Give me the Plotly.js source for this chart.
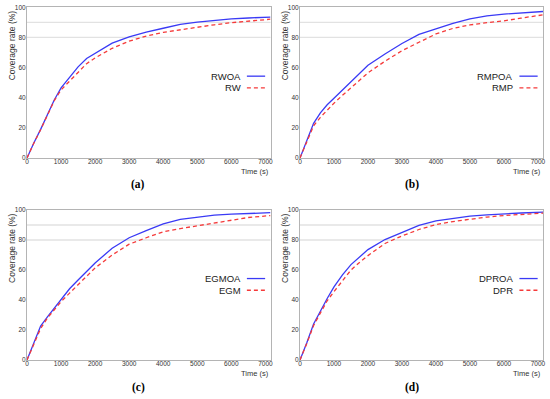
<!DOCTYPE html>
<html>
<head>
<meta charset="utf-8">
<script src="https://cdn.plot.ly/plotly-3.0.1.min.js"></script>
<style>html,body{margin:0;padding:0;background:#fff;}#chart{width:550px;height:399px;}</style>
</head>
<body>
<div id="chart"></div>
<script>
// Time samples (s)
const time = [0,100,200,400,600,800,1000,1250,1500,1750,2000,2500,3000,3500,4000,4500,5000,5500,6000,6500,7150];

// Panel (a)
const rwoa = [0,5.5,10,19,29,38.5,46.5,53.8,60.5,66,69.3,76.2,80.3,83.5,86.1,88.7,90.2,91.3,92.3,92.9,93.5];
const rw   = [0,5.3,9.8,18.8,28.8,38,45.2,51.2,57,62.6,66.4,72.8,77.5,80.9,83.4,85.2,86.8,88.4,89.8,91,92.1];
// Panel (b)
const rmpoa = [0,6,12,23,30,35.3,39.7,45.3,50.7,56.4,61.5,69,76,82,85.9,89.3,92.3,94.3,95.5,96.3,97.2];
const rmp   = [0,5.5,11,21.4,27,31.8,36.4,41.6,46.7,51.8,56.5,64.2,71.2,76.8,82.3,86,88.3,89.8,91,92.8,95];
// Panel (c)
const egmoa = [0,6,12,22.6,28.7,34.5,40,47.5,53.3,59,64.7,74.5,81.5,86.3,90.7,93.7,95.4,96.6,97.2,97.7,98.2];
const egm   = [0,5.5,11,21,28,33.5,38.9,44.6,50,55.8,61.4,70,77.2,81.5,85.4,87.6,89.5,91.7,93.3,95,96.3];
// Panel (d)
const droa  = [0,5.5,11.5,24,33,41,48.8,56.8,63.6,68.6,73.6,80.3,85.3,89.8,92.8,94.6,95.9,96.8,97.5,98,98.6];
const dpr   = [0,5.3,11,23,31.5,39.5,45.6,53,60,65,69.6,77.7,82.7,87,90.3,92.3,94,95.3,96.3,97.1,97.9];

const panelLabels = ['(a)','(b)','(c)','(d)'];
const seriesNames = [['RWOA','RW'],['RMPOA','RMP'],['EGMOA','EGM'],['DPROA','DPR']];
const seriesData = [[rwoa,rw],[rmpoa,rmp],[egmoa,egm],[droa,dpr]];
const xTicks = [0,1000,2000,3000,4000,5000,6000,7000];
const yTicks = [0,20,40,60,80,100];
const gridLevels = [80,90];
const xTitle = 'Time (s)';
const yTitle = 'Coverage rate (%)';

const BLUE = '#3a3af5', RED = '#f53a3a';
const FONT = 'Liberation Sans Narrow, Liberation Sans, Arial, sans-serif';

const W = 550, H = 399;
// plot areas in px [left,right,top,bottom]
const boxes = [[27,270.5,7.3,158],[300,543,7.3,158],[27,270.5,210,360],[300,543,210,360]];
const labelPos = [[138,185],[412,185],[138,387],[412,387]];

const traces = [], shapes = [], annotations = [];
const layout = {
  width: W, height: H, margin:{l:0,r:0,t:0,b:0},
  paper_bgcolor:'#fff', plot_bgcolor:'#fff', showlegend:false,
  font:{family:FONT, color:'#333'}
};

for (let i=0;i<4;i++){
  const n = i+1;
  const xa = 'xaxis'+(n===1?'':n), ya = 'yaxis'+(n===1?'':n);
  const xr = 'x'+(n===1?'':n), yr = 'y'+(n===1?'':n);
  const b = boxes[i];
  layout[xa] = {
    domain:[b[0]/W, b[1]/W], anchor:yr, range:[0,7150],
    tickvals:xTicks, ticks:'', showgrid:false, zeroline:false,
    showline:true, linecolor:'#b4b4b4', linewidth:1, mirror:true,
    ticklabelstandoff:-3,
    tickfont:{size:6.5, family:FONT, color:'#333'}, fixedrange:true
  };
  layout[ya] = {
    domain:[1-b[3]/H, 1-b[2]/H], anchor:xr, range:[0,100],
    tickvals:yTicks, ticks:'', showgrid:false, zeroline:false,
    showline:true, linecolor:'#b4b4b4', linewidth:1, mirror:true,
    ticklabelstandoff:-1,
    tickfont:{size:6.5, family:FONT, color:'#333'}, fixedrange:true
  };
  gridLevels.forEach(g=>{
    shapes.push({type:'line', xref:xr+' domain', x0:0, x1:1, yref:yr, y0:g, y1:g,
      line:{color:'#e2e2e2', width:1.3}, layer:'below'});
  });
  const [a,bb] = seriesData[i];
  traces.push({x:time, y:a, xaxis:xr, yaxis:yr, mode:'lines', name:seriesNames[i][0],
    line:{color:BLUE, width:1.3}});
  traces.push({x:time, y:bb, xaxis:xr, yaxis:yr, mode:'lines', name:seriesNames[i][1],
    line:{color:RED, width:1.3, dash:'4px,3px'}});
  // legend
  const ly = [0.543, 0.465];
  for (let k=0;k<2;k++){
    annotations.push({xref:xr+' domain', yref:yr+' domain', x:0.886, y:ly[k], xanchor:'right', yanchor:'middle',
      text:seriesNames[i][k], showarrow:false, font:{size:9.5, family:FONT, color:'#222'}});
    shapes.push({type:'line', xref:xr+' domain', yref:yr+' domain', x0:0.903, x1:0.978, y0:ly[k], y1:ly[k],
      line:{color:k===0?BLUE:RED, width:1.3, dash:k===0?'solid':'4px,3px'}});
  }
  // axis titles
  annotations.push({xref:xr+' domain', yref:yr+' domain', x:1, y:0, xanchor:'right', yanchor:'top', yshift:-7,
    text:xTitle, showarrow:false, font:{size:7.5, family:FONT, color:'#333'}});
  annotations.push({xref:xr+' domain', yref:yr+' domain', x:0, y:1, xanchor:'center', yanchor:'top', xshift:-15, yshift:-1,
    textangle:-90, text:yTitle, showarrow:false, font:{size:8.5, family:FONT, color:'#333'}});
  // panel label
  annotations.push({xref:'paper', yref:'paper', x:labelPos[i][0]/W, y:1-labelPos[i][1]/H, xanchor:'center', yanchor:'middle',
    text:'<b>'+panelLabels[i]+'</b>', showarrow:false, font:{size:11.5, family:'Liberation Serif, Times New Roman, serif', color:'#000'}});
}
layout.shapes = shapes;
layout.annotations = annotations;
Plotly.newPlot('chart', traces, layout, {staticPlot:true, displayModeBar:false});
</script>
</body>
</html>
